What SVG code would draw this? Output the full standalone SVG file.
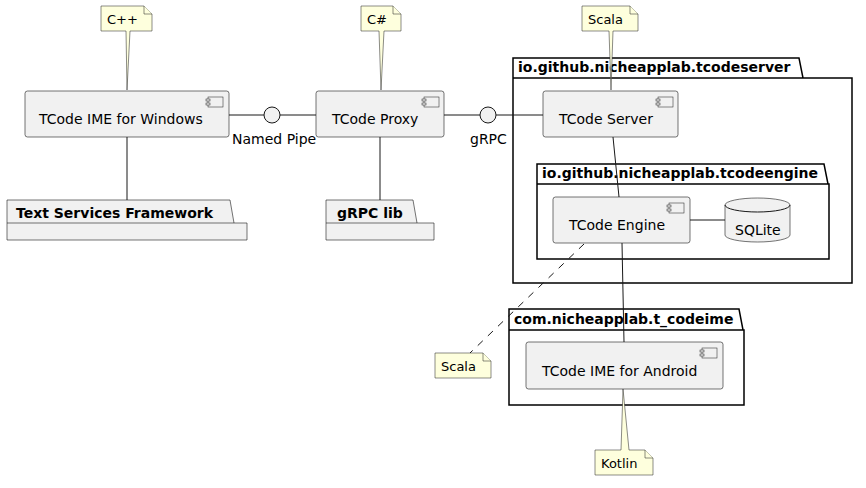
<svg xmlns="http://www.w3.org/2000/svg" width="866" height="488" viewBox="0 0 866 488">
<style>
text{font-family:"DejaVu Sans","Noto Sans",sans-serif;fill:#000}
.c{fill:#F1F1F1;stroke:#181818;stroke-width:0.6}
.n{fill:#FEFFDD;stroke:#181818;stroke-width:0.5}
.p{fill:none;stroke:#000;stroke-width:1.5}
.pf{fill:#F1F1F1;stroke:#181818;stroke-width:0.6}
.l{stroke:#181818;stroke-width:1;fill:none}
.t{font-size:14px}
.b{font-size:14px;font-weight:bold}
.s{font-size:13px}
</style>
<defs>
<g id="ic"><rect x="0" y="0" width="15" height="10" fill="#F1F1F1" stroke="#181818" stroke-width="0.5"/><rect x="-2" y="2" width="4" height="2" fill="#F1F1F1" stroke="#181818" stroke-width="0.5"/><rect x="-2" y="6" width="4" height="2" fill="#F1F1F1" stroke="#181818" stroke-width="0.5"/></g>
</defs>
<g id="pkg-server"><path class="p" d="M513,58 h286 l4,20 h49 v205 h-339 z M513,78 h290"/><text class="b" x="518" y="72">io.github.nicheapplab.tcodeserver</text></g>
<g id="pkg-engine"><path class="p" d="M537,164 h287 l4,20 h1 v75 h-292 z M537,184 h291"/><text class="b" x="542" y="178">io.github.nicheapplab.tcodeengine</text></g>
<g id="pkg-android"><path class="p" d="M509,309 h230 l4,21 h1 v75 h-235 z M509,330 h234"/><text class="b" x="514" y="324">com.nicheapplab.t_codeime</text></g>
<g id="pkg-tsf"><path class="pf" d="M7,200 h223 l4,23 h13 v17 h-240 z M7,223 h227"/><text class="b" x="16" y="218">Text Services Framework</text></g>
<g id="pkg-grpclib"><path class="pf" d="M326,200 h87 l4,23 h17 v17 h-108 z M326,223 h91"/><text class="b" x="337" y="218">gRPC lib</text></g>
<g id="connectors">
<line class="l" x1="127" y1="137" x2="127" y2="200"/>
<line class="l" x1="380" y1="137" x2="380" y2="200"/>
<line class="l" x1="229" y1="115" x2="264" y2="115"/>
<line class="l" x1="280" y1="115" x2="316" y2="115"/>
<line class="l" x1="444" y1="115" x2="480" y2="115"/>
<line class="l" x1="496" y1="115" x2="543" y2="115"/>
<line class="l" x1="613" y1="137" x2="619" y2="197"/>
<line class="l" x1="690" y1="220" x2="725" y2="220"/>
<line class="l" x1="622" y1="243" x2="624" y2="342"/>
<line class="l" x1="584" y1="244" x2="470" y2="353" stroke-dasharray="7,7"/>
</g>
<g id="iface-pipe"><circle cx="272" cy="115" r="8" fill="#F1F1F1" stroke="#181818"/><text class="t" x="232" y="144">Named Pipe</text></g>
<g id="iface-grpc"><circle cx="488" cy="115" r="8" fill="#F1F1F1" stroke="#181818"/><text class="t" x="470" y="144">gRPC</text></g>
<g id="ime-win"><rect class="c" x="25" y="91" width="204" height="46" rx="2.5"/><use href="#ic" x="208" y="97"/><text class="t" x="39" y="124">TCode IME for Windows</text></g>
<g id="proxy"><rect class="c" x="316" y="91" width="128" height="46" rx="2.5"/><use href="#ic" x="424" y="97"/><text class="t" x="332" y="124">TCode Proxy</text></g>
<g id="server"><rect class="c" x="543" y="91" width="135" height="46" rx="2.5"/><use href="#ic" x="658" y="97"/><text class="t" x="559" y="124">TCode Server</text></g>
<g id="engine"><rect class="c" x="553" y="197" width="137" height="46" rx="2.5"/><use href="#ic" x="669" y="203"/><text class="t" x="569" y="230">TCode Engine</text></g>
<g id="sqlite"><path class="c" d="M725,205 a32.5,7 0 0 1 65,0 v30 a32.5,7 0 0 1 -65,0 z"/><path class="l" stroke-width="0.6" d="M725,205 a32.5,7 0 0 0 65,0"/><text class="t" x="735" y="235">SQLite</text></g>
<g id="ime-android"><rect class="c" x="526" y="342" width="197" height="47" rx="2.5"/><use href="#ic" x="702" y="348"/><text class="t" x="542" y="376">TCode IME for Android</text></g>
<g id="note-cpp"><path class="n" d="M101,6 h43 l8,8 v17 h-22 l-3,59 l-1,-59 h-25 z"/><path class="n" d="M144,6 v8 h8"/><text class="s" x="107" y="24">C++</text></g>
<g id="note-cs"><path class="n" d="M361,6 h32 l8,8 v17 h-17 l-3,59 l-2,-59 h-18 z"/><path class="n" d="M393,6 v8 h8"/><text class="s" x="367" y="24">C#</text></g>
<g id="note-scala1"><path class="n" d="M582,6 h48 l8,8 v17 h-25 l-2,59 l-2,-59 h-27 z"/><path class="n" d="M630,6 v8 h8"/><text class="s" x="588" y="24">Scala</text></g>
<g id="note-scala2"><path class="n" d="M435,353 h48 l8,8 v17 h-56 z"/><path class="n" d="M483,353 v8 h8"/><text class="s" x="441" y="371">Scala</text></g>
<g id="note-kotlin"><path class="n" d="M595,450 h26 l2,-61 l6,61 h16 l8,8 v17 h-58 z"/><path class="n" d="M645,450 v8 h8"/><text class="s" x="601" y="468">Kotlin</text></g>
</svg>
